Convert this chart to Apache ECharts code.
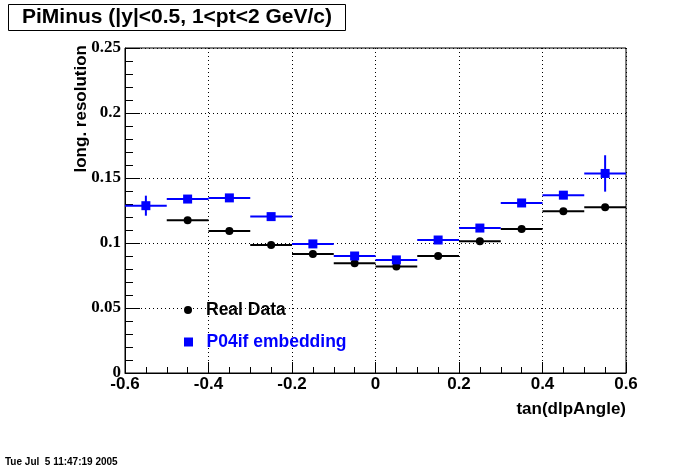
<!DOCTYPE html>
<html>
<head>
<meta charset="utf-8">
<script src="https://cdn.jsdelivr.net/npm/echarts@6/dist/echarts.min.js"></script>
<style>
html,body{margin:0;padding:0;background:#fff;}
#chart{width:696px;height:472px;}
</style>
</head>
<body>
<div id="chart"></div>
<script>
// ---- data ----
const titleText = 'PiMinus (|y|<0.5, 1<pt<2 GeV/c)';
const xTitle = 'tan(dlpAngle)';
const yTitle = 'long. resolution';
const dateText = 'Tue Jul  5 11:47:19 2005';
const seriesNames = ['Real Data', 'P04if embedding'];
const binHalfWidth = 0.05;

const realX   = [-0.45, -0.35, -0.25, -0.15, -0.05, 0.05, 0.15, 0.25, 0.35, 0.45, 0.55];
const realY   = [0.1175, 0.1092, 0.0985, 0.0915, 0.0844, 0.0820, 0.0900, 0.1013, 0.1108, 0.1245, 0.1275];
const realErr = [0.0018, 0.0016, 0.0015, 0.0014, 0.0013, 0.0013, 0.0014, 0.0015, 0.0016, 0.0018, 0.0022];

const embX   = [-0.55, -0.45, -0.35, -0.25, -0.15, -0.05, 0.05, 0.15, 0.25, 0.35, 0.45, 0.55];
const embY   = [0.1287, 0.1338, 0.1347, 0.1203, 0.0993, 0.0900, 0.0870, 0.1023, 0.1115, 0.1308, 0.1368, 0.1535];
const embErr = [0.0077, 0.0030, 0.0030, 0.0020, 0.0018, 0.0016, 0.0016, 0.0018, 0.0020, 0.0030, 0.0030, 0.0140];

const xMin = -0.6, xMax = 0.6, xStep = 0.2;
const yMin = 0, yMax = 0.25, yStep = 0.05;

// ---- chart ----
const chart = echarts.init(document.getElementById('chart'), null, {renderer: 'canvas'});
const SANS = 'Liberation Sans, Arial, Helvetica, sans-serif';
const SERIF = 'Liberation Serif, Times New Roman, serif';

function rows(xs, ys, es) { return xs.map((x, i) => [x, ys[i], es[i]]); }

function makeRender(color, marker) {
  return function (params, api) {
    const x = api.value(0), y = api.value(1), e = api.value(2);
    const c = api.coord([x, y]);
    const l = api.coord([x - binHalfWidth, y]);
    const r = api.coord([x + binHalfWidth, y]);
    const t = api.coord([x, y + e]);
    const b = api.coord([x, y - e]);
    const children = [
      {type: 'line', shape: {x1: l[0], y1: l[1], x2: r[0], y2: r[1]}, style: {stroke: color, lineWidth: 2}},
      {type: 'line', shape: {x1: t[0], y1: t[1], x2: b[0], y2: b[1]}, style: {stroke: color, lineWidth: 2}}
    ];
    if (marker === 'circle') {
      children.push({type: 'circle', shape: {cx: c[0], cy: c[1], r: 4}, style: {fill: color}});
    } else {
      children.push({type: 'rect', shape: {x: c[0] - 4.5, y: c[1] - 4.5, width: 9, height: 9}, style: {fill: color}});
    }
    return {type: 'group', children: children};
  };
}

const option = {
  animation: false,
  backgroundColor: '#ffffff',
  title: {
    text: titleText,
    left: 8, top: 4,
    padding: [2, 14, 2, 14],
    borderColor: '#000', borderWidth: 1,
    backgroundColor: '#fff',
    textStyle: {fontFamily: SANS, fontWeight: 'bold', fontSize: 21, color: '#000', lineHeight: 23}
  },
  legend: [
    {
      data: [{name: seriesNames[0], icon: 'circle', textStyle: {color: '#000'}}],
      left: 179, top: 296,
      itemWidth: 26, itemHeight: 8,
      textStyle: {fontFamily: SANS, fontWeight: 'bold', fontSize: 17.5, color: '#000'},
      selectedMode: false
    },
    {
      data: [{name: seriesNames[1], icon: 'path://M0 0H10V10H0Z', textStyle: {color: '#0000ff'}}],
      left: 179, top: 328,
      itemWidth: 26, itemHeight: 9,
      textStyle: {fontFamily: SANS, fontWeight: 'bold', fontSize: 17.5, color: '#0000ff'},
      selectedMode: false
    }
  ],
  grid: {left: 125, right: 70, top: 48, bottom: 99, show: true, borderColor: '#000', borderWidth: 1, backgroundColor: 'transparent'},
  xAxis: {
    type: 'value', min: xMin, max: xMax, interval: xStep,
    axisLine: {show: true, onZero: false, lineStyle: {color: '#000', width: 1}},
    axisTick: {show: true, inside: true, length: 11, lineStyle: {color: '#000'}},
    minorTick: {show: true, splitNumber: 4, length: 6, lineStyle: {color: '#000'}},
    splitLine: {show: true, lineStyle: {color: '#000', type: [1, 3], width: 1}},
    axisLabel: {fontFamily: SANS, fontWeight: 'bold', fontSize: 17, color: '#000', margin: 3}
  },
  yAxis: {
    type: 'value', min: yMin, max: yMax, interval: yStep,
    axisLine: {show: true, onZero: false, lineStyle: {color: '#000', width: 1}},
    axisTick: {show: true, inside: true, length: 15, lineStyle: {color: '#000'}},
    minorTick: {show: true, splitNumber: 5, length: 8, lineStyle: {color: '#000'}},
    splitLine: {show: true, lineStyle: {color: '#000', type: [1, 3], width: 1}},
    axisLabel: {fontFamily: SERIF, fontWeight: 'bold', fontSize: 17, color: '#000', margin: 4}
  },
  graphic: [
    {type: 'text', left: 5, top: 457, style: {text: dateText, font: 'bold 10px ' + SANS, fill: '#000'}},
    {type: 'text', x: 626, y: 409, style: {text: xTitle, font: 'bold 17px ' + SANS, fill: '#000', align: 'right', verticalAlign: 'middle'}},
    {type: 'text', x: 81, y: 45, rotation: Math.PI / 2, style: {text: yTitle, font: 'bold 17px ' + SANS, fill: '#000', align: 'right', verticalAlign: 'middle'}}
  ],
  series: [
    {
      name: seriesNames[0], type: 'custom',
      itemStyle: {color: '#000'},
      encode: {x: 0, y: 1},
      renderItem: makeRender('#000', 'circle'),
      data: rows(realX, realY, realErr), z: 3
    },
    {
      name: seriesNames[1], type: 'custom',
      itemStyle: {color: '#0000ff'},
      encode: {x: 0, y: 1},
      renderItem: makeRender('#0000ff', 'square'),
      data: rows(embX, embY, embErr), z: 4
    }
  ]
};
chart.setOption(option);
</script>
</body>
</html>
